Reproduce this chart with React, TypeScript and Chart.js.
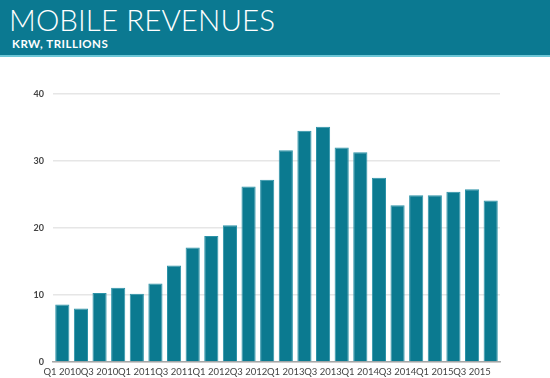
import React, { useEffect, useRef } from "react";
import { Chart, registerables } from "chart.js";

Chart.register(...registerables);

const categories = [
  "Q1 2010", "Q2 2010", "Q3 2010", "Q4 2010",
  "Q1 2011", "Q2 2011", "Q3 2011", "Q4 2011",
  "Q1 2012", "Q2 2012", "Q3 2012", "Q4 2012",
  "Q1 2013", "Q2 2013", "Q3 2013", "Q4 2013",
  "Q1 2014", "Q2 2014", "Q3 2014", "Q4 2014",
  "Q1 2015", "Q2 2015", "Q3 2015", "Q4 2015",
];

const revenues = [
  8.6, 8.0, 10.3, 11.1,
  10.2, 11.7, 14.4, 17.1,
  18.8, 20.4, 26.2, 27.2,
  31.6, 34.5, 35.1, 32.0,
  31.3, 27.5, 23.4, 24.9,
  24.9, 25.4, 25.8, 24.1,
];

const yTicks = [0, 10, 20, 30, 40];

const title = "MOBILE REVENUES";
const subtitle = "KRW, TRILLIONS";

export default function App() {
  const canvasRef = useRef<HTMLCanvasElement | null>(null);

  useEffect(() => {
    document.body.style.margin = "0";
    if (!canvasRef.current) return;
    const chart = new Chart(canvasRef.current, {
      type: "bar",
      data: {
        labels: categories,
        datasets: [
          {
            data: revenues,
            backgroundColor: "#0b7a90",
            borderColor: "#2d93a8",
            borderWidth: 1,
            barPercentage: 0.76,
            categoryPercentage: 1,
          },
        ],
      },
      options: {
        animation: false,
        responsive: false,
        maintainAspectRatio: false,
        layout: { padding: { top: 37, right: 50, left: 0, bottom: 0 } },
        plugins: {
          legend: { display: false },
          tooltip: { enabled: false },
        },
        scales: {
          x: {
            grid: { display: false, drawTicks: false },
            border: { display: true, color: "#a8a8a8", width: 1.5 },
            ticks: {
              autoSkip: false,
              maxRotation: 0,
              minRotation: 0,
              padding: 4,
              color: "#444",
              font: { family: "Lato", size: 9.5 },
              callback: (_v: any, i: number) => (i % 2 === 0 ? categories[i] : ""),
            },
            afterFit: (axis: any) => {
              axis.height = 16;
            },
          },
          y: {
            min: 0,
            max: 40,
            afterBuildTicks: (axis: any) => {
              axis.ticks = yTicks.map((v) => ({ value: v }));
            },
            grid: { color: "#e6e6e6", lineWidth: 1.5, drawTicks: false },
            border: { display: false },
            ticks: {
              padding: 9,
              color: "#444",
              font: { family: "Lato", size: 9, weight: "bold" },
            },
            afterFit: (axis: any) => {
              axis.width = 53;
            },
          },
        },
      },
    });
    return () => chart.destroy();
  }, []);

  return (
    <div style={{ position: "absolute", left: 0, top: 0, width: 550, height: 378, background: "#fff", overflow: "hidden" }}>
      <div
        style={{
          position: "absolute",
          left: 0,
          top: 0,
          width: 550,
          height: 55,
          background: "#0b7991",
          borderBottom: "2px solid #6cc6d6",
        }}
      >
        <div
          style={{
            position: "absolute",
            left: 9,
            top: 3,
            color: "#fff",
            fontFamily: "Lato",
            fontWeight: 300,
            fontSize: 29.5,
            lineHeight: "34px",
            letterSpacing: 0.1,
            whiteSpace: "nowrap",
          }}
        >
          {title}
        </div>
        <div
          style={{
            position: "absolute",
            left: 12,
            top: 37,
            color: "#fff",
            fontFamily: "Lato",
            fontWeight: 700,
            fontSize: 11.5,
            lineHeight: "13px",
            letterSpacing: 0.5,
            whiteSpace: "nowrap",
          }}
        >
          {subtitle}
        </div>
      </div>
      <canvas
        ref={canvasRef}
        width={550}
        height={321}
        style={{ position: "absolute", left: 0, top: 57, width: 550, height: 321 }}
      />
    </div>
  );
}
